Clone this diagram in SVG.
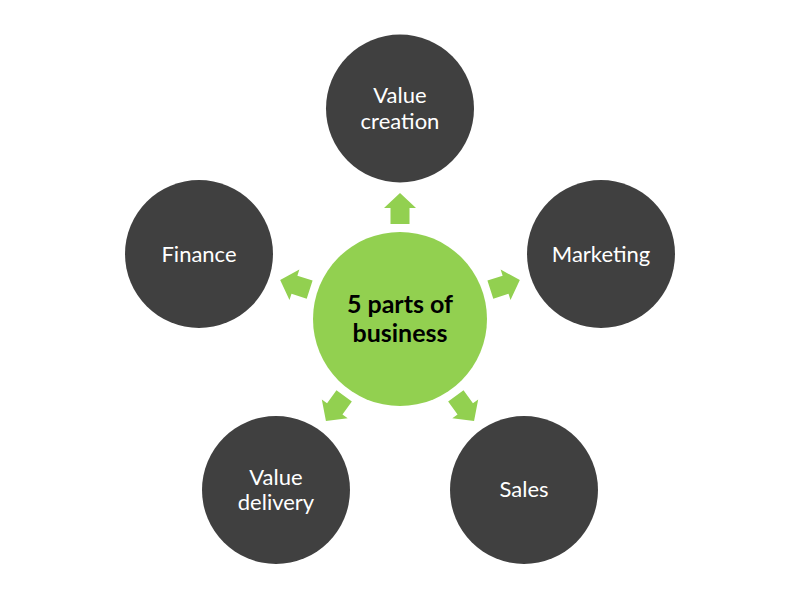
<svg xmlns="http://www.w3.org/2000/svg" width="800" height="600" viewBox="0 0 800 600">
<style>
.node{fill:#404040}
.hub{fill:#92D050}
.lbl{font-family:Lato,"Open Sans",sans-serif;font-size:22px;fill:#ffffff;text-anchor:middle}
.hubl{font-family:Lato,"Open Sans",sans-serif;font-size:25px;font-weight:bold;fill:#000000;text-anchor:middle}
.arr{fill:#92D050}
</style>
<defs>
<polygon id="arrow" points="0,-126 16,-111 9.5,-111 9.5,-95 -9.5,-95 -9.5,-111 -16,-111"/>
</defs>
<rect width="800" height="600" fill="#ffffff"/>
<g id="connectors" class="arr">
<use href="#arrow" transform="translate(400,319) rotate(0)"/>
<use href="#arrow" transform="translate(400,319) rotate(72)"/>
<use href="#arrow" transform="translate(400,319) rotate(144)"/>
<use href="#arrow" transform="translate(400,319) rotate(216)"/>
<use href="#arrow" transform="translate(400,319) rotate(288)"/>
</g>
<g id="hub">
<circle class="hub" cx="400" cy="319" r="87"/>
<text class="hubl" x="400" y="313">5 parts of</text>
<text class="hubl" x="400" y="342">business</text>
</g>
<g id="value-creation">
<circle class="node" cx="400" cy="108.5" r="74"/>
<text class="lbl" x="400" y="103">Value</text>
<text class="lbl" x="400" y="129">creation</text>
</g>
<g id="marketing">
<circle class="node" cx="601" cy="254" r="74"/>
<text class="lbl" x="601" y="262">Marketing</text>
</g>
<g id="sales">
<circle class="node" cx="524" cy="490" r="74"/>
<text class="lbl" x="524" y="497">Sales</text>
</g>
<g id="value-delivery">
<circle class="node" cx="276" cy="490" r="74"/>
<text class="lbl" x="276" y="485">Value</text>
<text class="lbl" x="276" y="510">delivery</text>
</g>
<g id="finance">
<circle class="node" cx="199" cy="254" r="74"/>
<text class="lbl" x="199" y="262">Finance</text>
</g>
</svg>
